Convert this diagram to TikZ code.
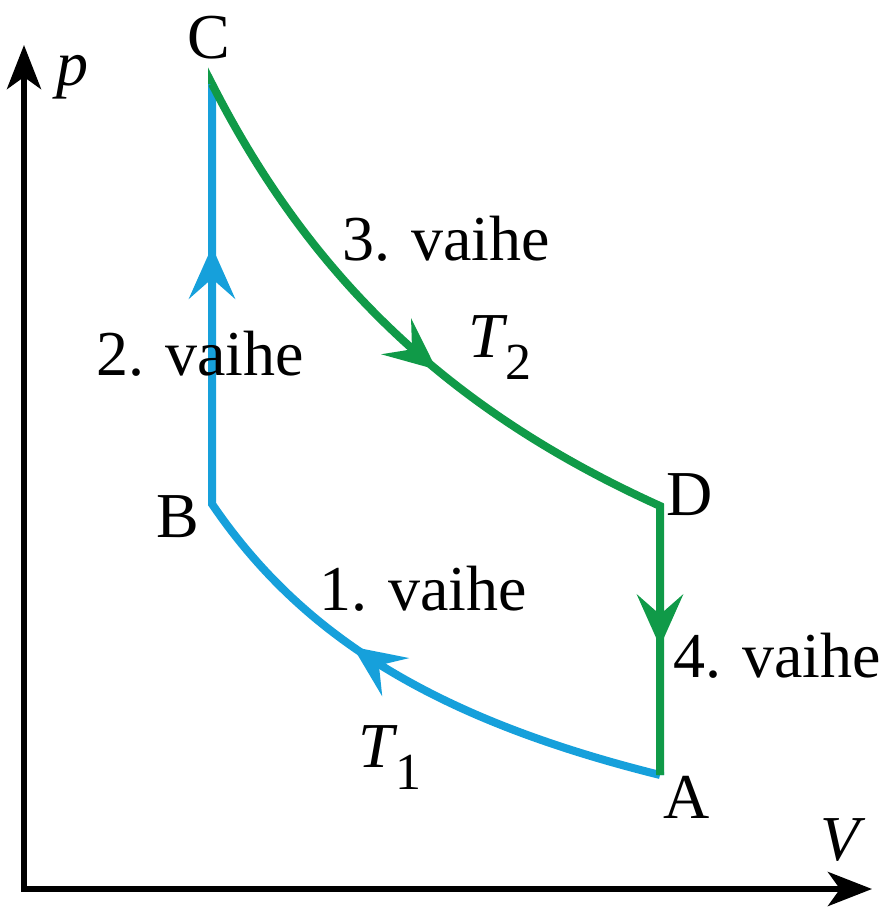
\documentclass[tikz,border=0pt]{standalone}
\usepackage{fontspec}
\setmainfont{Liberation Serif}
\usetikzlibrary{arrows.meta,decorations.markings}
\definecolor{cblue}{RGB}{22,160,219}
\definecolor{cgreen}{RGB}{16,154,72}
\newcommand\Tsub[1]{\textit{T}\kern-1pt\raisebox{-11pt}{\fontsize{26}{26}\selectfont #1}}
\begin{document}
\begin{tikzpicture}[x=0.5pt,y=-0.5pt,
  lbl/.style={font=\fontsize{32}{38}\selectfont, inner sep=0pt, anchor=base},
  proc/.style={line width=4pt, line join=miter},
  barb/.tip={Stealth[length=26pt,width=23pt,inset=10pt]},
  axtip/.tip={Stealth[length=22pt,width=17pt,inset=6pt]},
]
\useasboundingbox (0,0) rectangle (881,910);
\coordinate (O) at (24,889);
\coordinate (Ptop) at (24,45);
\coordinate (Vend) at (872,889);
\coordinate (A) at (660,775);
\coordinate (B) at (212,504);
\coordinate (C) at (212,84);
\coordinate (D) at (660,506);
% axes
\draw[line width=3pt, axtip-axtip] (Ptop) -- (O) -- (Vend);
% blue: A -> B -> C
\draw[proc, cblue, postaction={decorate}, decoration={markings,
  mark=at position 0.35 with {\arrow{barb}},
  mark=at position 0.83 with {\arrow{barb}}}]
  (A) -- plot[domain=660:212, samples=90] (\x,{964.2-1439.62/((\x+100.8)/100)}) -- (C);
% green: C -> D -> A
\draw[proc, cgreen, postaction={decorate}, decoration={markings,
  mark=at position 0.408 with {\arrow{barb}},
  mark=at position 0.857 with {\arrow{barb}}}]
  (C) -- plot[domain=212:660, samples=90] (\x,{895.3-3353.3/((\x+201.3)/100)}) -- (D) -- (A);
% labels
\node[lbl] (lp) at (72,85) {\textit{p}};
\node[lbl] (lV) at (843,860) {\textit{V}};
\node[lbl] (lC) at (209,58) {C};
\node[lbl] (lB) at (178,537) {B};
\node[lbl] (lD) at (690,515) {D};
\node[lbl] (lA) at (687,818) {A};
\node[lbl] (l2) at (200,375) {2. vaihe};
\node[lbl] (l3) at (446,260) {3. vaihe};
\node[lbl] (l1) at (423,610) {1. vaihe};
\node[lbl] (l4) at (777,677) {4. vaihe};
\node[lbl, anchor=base west] (lT2) at (468,357) {\Tsub{2}};
\node[lbl, anchor=base west] (lT1) at (358,767) {\Tsub{1}};
\end{tikzpicture}
\end{document}
